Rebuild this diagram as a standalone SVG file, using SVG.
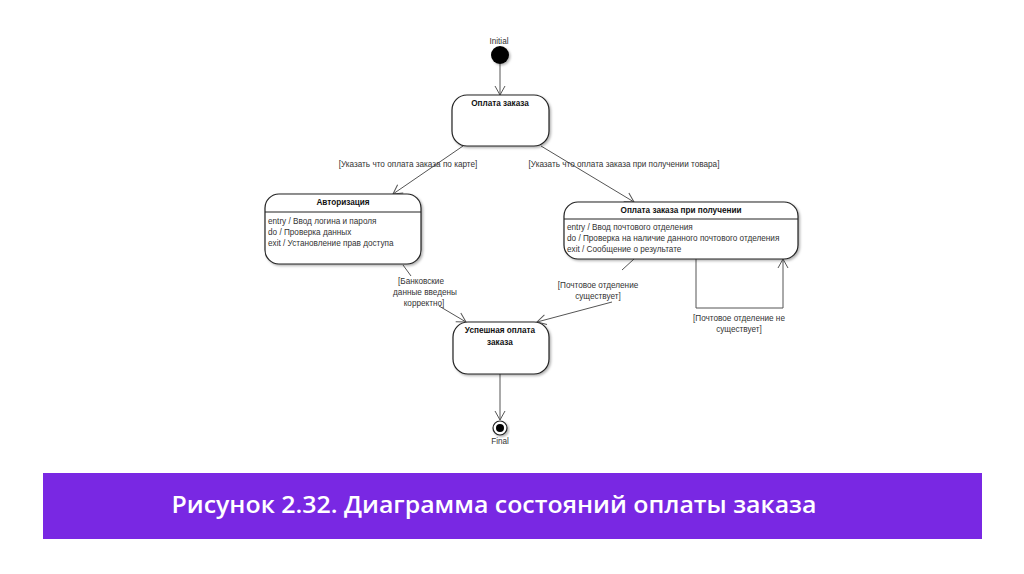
<svg xmlns="http://www.w3.org/2000/svg" width="1024" height="574" viewBox="0 0 1024 574">
<defs>
<marker id="arr" markerWidth="12" markerHeight="12" refX="10" refY="6" orient="auto" markerUnits="userSpaceOnUse">
<path d="M1,1 L10,6 L1,11" fill="none" stroke="#555" stroke-width="1"/>
</marker>
<filter id="sh" x="-10%" y="-10%" width="130%" height="130%">
<feDropShadow dx="1.5" dy="1.5" stdDeviation="1" flood-color="#000" flood-opacity="0.3"/>
</filter>
</defs>
<style>
.st{fill:#fff;stroke:#222;stroke-width:1.2;filter:url(#sh)}
.sep{stroke:#222;stroke-width:1}
.t{font-family:"Liberation Sans",Arial,sans-serif;font-size:8.2px;fill:#333}
.b{font-weight:bold;text-anchor:middle;fill:#111}
.c{text-anchor:middle}
.ln{fill:none;stroke:#555;stroke-width:1}
.cap{font-family:"Open Sans","Noto Sans",sans-serif;font-size:22.5px;font-weight:600;fill:#fff;text-anchor:middle}
</style>
<rect width="1024" height="574" fill="#fff"/>

<g id="connectors">
<line class="ln" x1="500" y1="64" x2="500" y2="95" marker-end="url(#arr)"/>
<line class="ln" x1="463" y1="146" x2="393" y2="194" marker-end="url(#arr)"/>
<line class="ln" x1="541" y1="146" x2="634" y2="202" marker-end="url(#arr)"/>
<line class="ln" x1="403" y1="265" x2="411" y2="276"/>
<line class="ln" x1="439" y1="306" x2="466" y2="322" marker-end="url(#arr)"/>
<line class="ln" x1="634" y1="259" x2="622" y2="270"/>
<line class="ln" x1="612" y1="302" x2="537" y2="322" marker-end="url(#arr)"/>
<polyline class="ln" points="696,259 696,308 783,308 783,259" marker-end="url(#arr)"/>
<line class="ln" x1="500" y1="374" x2="500" y2="420" marker-end="url(#arr)"/>
<text class="t c" x="408" y="167">[Указать что оплата заказа по карте]</text>
<text class="t c" x="624" y="167">[Указать что оплата заказа при получении товара]</text>
<text class="t c" x="421" y="284">[Банковские</text>
<text class="t c" x="425" y="295">данные введены</text>
<text class="t c" x="424" y="306">корректно]</text>
<text class="t c" x="598" y="288">[Почтовое отделение</text>
<text class="t c" x="598" y="299">существует]</text>
<text class="t c" x="739" y="321">[Почтовое отделение не</text>
<text class="t c" x="739" y="332">существует]</text>
</g>

<g id="initial">
<circle cx="500" cy="55" r="9" fill="#000" filter="url(#sh)"/>
<text class="t c" x="499" y="44" fill="#333">Initial</text>
</g>

<g id="oplata">
<rect class="st" x="452" y="95" width="97" height="51" rx="15"/>
<text class="t b" x="500" y="106">Оплата заказа</text>
</g>

<g id="avtorizaciya">
<rect class="st" x="265" y="194" width="156" height="70" rx="14"/>
<line class="sep" x1="265" y1="212" x2="421" y2="212"/>
<text class="t b" x="343" y="205">Авторизация</text>
<text class="t" x="268" y="224">entry / Ввод логина и пароля</text>
<text class="t" x="268" y="235">do / Проверка данных</text>
<text class="t" x="268" y="246">exit / Установление прав доступа</text>
</g>

<g id="oplata-pri-poluchenii">
<rect class="st" x="564" y="202" width="234" height="57" rx="14"/>
<line class="sep" x1="564" y1="219" x2="798" y2="219"/>
<text class="t b" x="681" y="213">Оплата заказа при получении</text>
<text class="t" x="567" y="230">entry / Ввод почтового отделения</text>
<text class="t" x="567" y="241">do / Проверка на наличие данного почтового отделения</text>
<text class="t" x="567" y="252">exit / Сообщение о результате</text>
</g>

<g id="uspeshnaya">
<rect class="st" x="453" y="322" width="96" height="52" rx="15"/>
<text class="t b" x="500" y="333">Успешная оплата</text>
<text class="t b" x="500" y="345">заказа</text>
</g>

<g id="final">
<circle cx="500" cy="428" r="7" fill="#fff" stroke="#222" stroke-width="1.2" filter="url(#sh)"/>
<circle cx="500" cy="428" r="4" fill="#000"/>
<text class="t c" x="500" y="444">Final</text>
</g>

<g id="caption">
<rect x="43" y="473" width="939" height="66" fill="#7928e3"/>
<text class="cap" x="494" y="513" textLength="645" lengthAdjust="spacingAndGlyphs">Рисунок 2.32. Диаграмма состояний оплаты заказа</text>
</g>
</svg>
